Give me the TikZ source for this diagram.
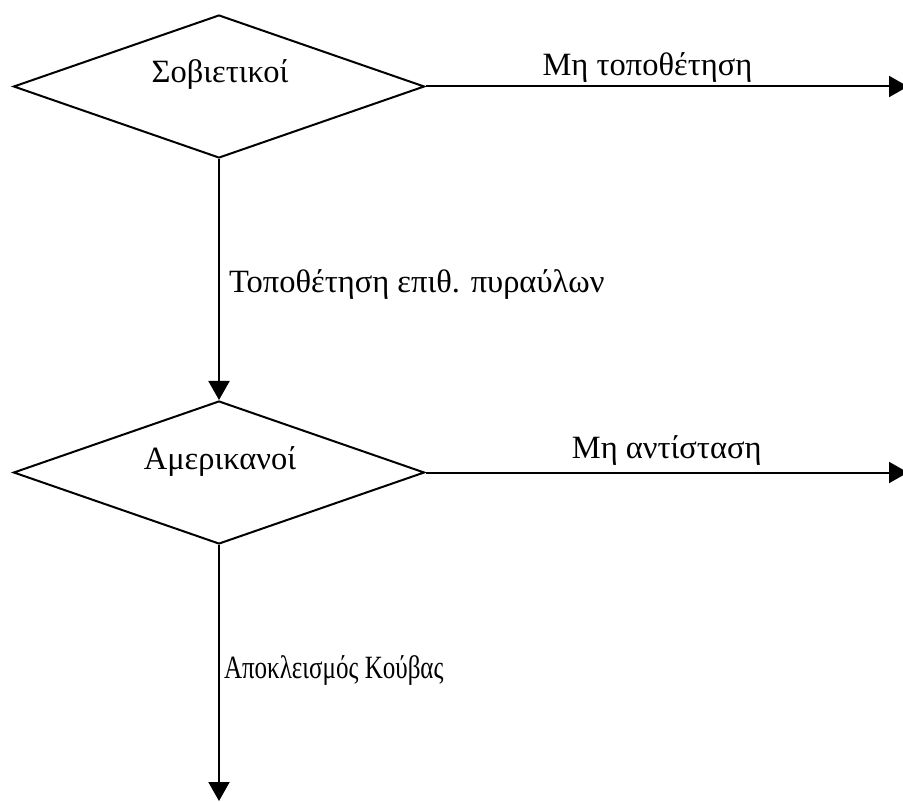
\documentclass[tikz,border=0pt]{standalone}
\usepackage{fontspec}
\setmainfont{Liberation Serif}
\usetikzlibrary{shapes.geometric,arrows.meta}
\begin{document}
\begin{tikzpicture}[x=1pt,y=-1pt,
  decision/.style={draw,line width=2pt,diamond,inner sep=0pt,
    minimum width=411pt,minimum height=143pt},
  caption/.style={font=\fontsize{32.5}{38}\selectfont,inner sep=0pt},
  flow/.style={line width=2pt,-{Triangle[length=19pt,width=21pt]}}]
\useasboundingbox (0,0) rectangle (903,802);
% two decision diamonds
\node[decision] (sov) at (219,86.5) {};
\node[caption] (sovtxt) at (220,75) {Σοβιετικοί};
\node[decision] (usa) at (219,472.5) {};
\node[caption] (usatxt) at (220,462) {Αμερικανοί};
% free ends of the outgoing arrows
\coordinate (end1) at (908,86.5);
\coordinate (end2) at (908,472.5);
\coordinate (end3) at (219,801);
% connectors with their labels
\draw[flow] (sov.east) -- node[caption,pos=0.46,above=3pt] (l1) {Μη τοποθέτηση} (end1);
\draw[flow] (sov.south) -- node[caption,pos=0.52,right=9pt] (l2) {Τοποθέτηση επιθ. πυραύλων} (usa.north);
\draw[flow] (usa.east) -- node[caption,pos=0.5,above=6pt] (l3) {Μη αντίσταση} (end2);
\draw[flow] (usa.south) -- node[caption,pos=0.49,right=4pt] (l4) {\scalebox{0.77}[1]{Αποκλεισμός Κούβας}} (end3);
\end{tikzpicture}
\end{document}
